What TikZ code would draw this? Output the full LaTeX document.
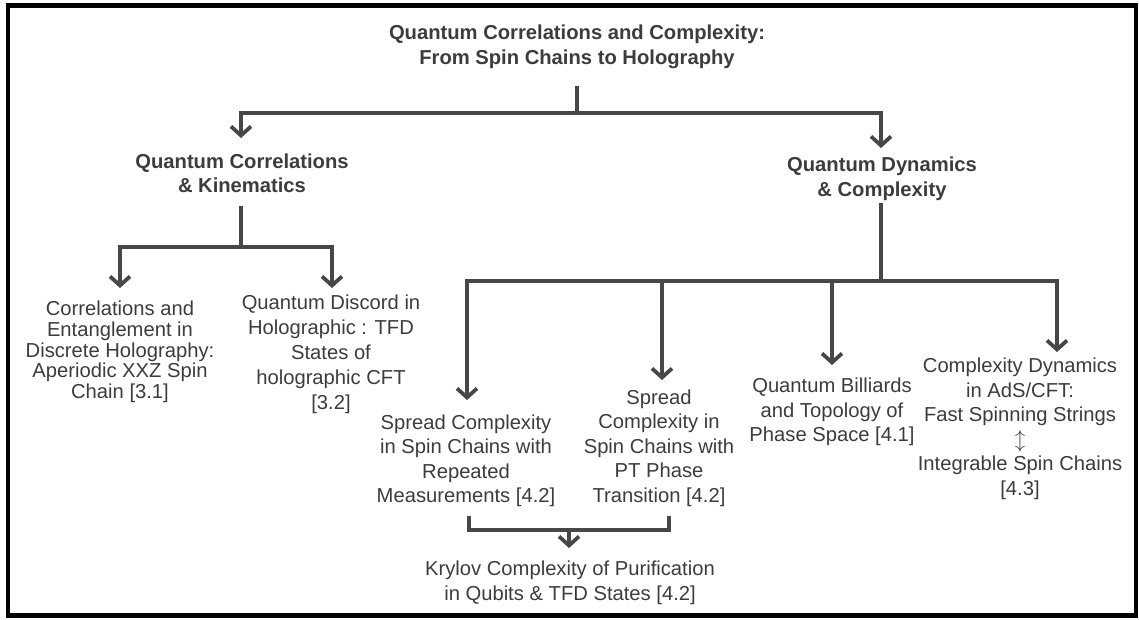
\documentclass[tikz,border=0pt]{standalone}
\usepackage{fontspec}
\setmainfont{Liberation Sans}
\usetikzlibrary{arrows.meta}
\definecolor{lnc}{HTML}{474747}
\definecolor{txc}{HTML}{3C3C3C}
\begin{document}
\begin{tikzpicture}[x=1pt,y=-1pt,
  ln/.style={draw=lnc,line width=3.8pt},
  arr/.style={ln,-{Straight Barb[length=9pt,width=20pt]}},
  boldtxt/.style={font=\fontsize{20.2}{24.5}\selectfont\bfseries, text=txc, align=center, inner sep=0pt},
  regtxt/.style={font=\fontsize{20.2}{24.5}\selectfont, text=txc, align=center, inner sep=0pt}]
\useasboundingbox (0,0) rectangle (1139,619);
\draw[line width=4.5pt,black] (8,5.5) rectangle (1136,615.5);

% nodes
\node[boldtxt] (title) at (577,47) {Quantum Correlations and Complexity:\\From Spin Chains to Holography};
\node[boldtxt] (kin) at (242,173.5) {Quantum Correlations\\\& Kinematics};
\node[boldtxt] (dyn) at (882,179) {Quantum Dynamics\\\& Complexity};
\node[regtxt,font=\fontsize{20.2}{20.7}\selectfont] (n31) at (120,352) {Correlations and\\Entanglement in\\Discrete Holography:\\Aperiodic XXZ Spin\\Chain [3.1]};
\node[regtxt,font=\fontsize{20.2}{25}\selectfont] (n32) at (331,354) {Quantum Discord in\\Holographic : TFD\\States of\\holographic CFT\\{[3.2]}};
\node[regtxt] (n42a) at (466,461) {Spread Complexity\\in Spin Chains with\\Repeated\\Measurements [4.2]};
\node[regtxt] (n42b) at (659,448) {Spread\\Complexity in\\Spin Chains with\\PT Phase\\Transition [4.2]};
\node[regtxt] (n41) at (832,412) {Quantum Billiards\\and Topology of\\Phase Space [4.1]};
\node[regtxt] (n43) at (1020,429) {Complexity Dynamics\\in AdS/CFT:\\Fast Spinning Strings\\$\updownarrow$\\Integrable Spin Chains\\{[4.3]}};
\node[regtxt] (nk) at (570,583) {Krylov Complexity of Purification\\in Qubits \& TFD States [4.2]};

% junctions and tips
\coordinate (s0) at (577,86);
\coordinate (j0) at (577,113);
\coordinate (tkin) at (241,138);
\coordinate (tdyn) at (881,148);
\coordinate (s1) at (241,206);
\coordinate (j1) at (241,247);
\coordinate (t31) at (120,288);
\coordinate (t32) at (332,288);
\coordinate (s2) at (881,203);
\coordinate (j2) at (881,281);
\coordinate (t42a) at (467,400);
\coordinate (t42b) at (662,380);
\coordinate (t41) at (832,365);
\coordinate (t43) at (1057,352);
\coordinate (b1) at (469,516);
\coordinate (b2) at (669,516);
\coordinate (bj) at (569,530);
\coordinate (tk) at (569,548);

% connectors
\draw[ln] (s0) -- (j0);
\draw[arr] (j0) -| (tkin);
\draw[arr] (j0) -| (tdyn);
\draw[ln] (s1) -- (j1);
\draw[arr] (j1) -| (t31);
\draw[arr] (j1) -| (t32);
\draw[ln] (s2) -- (j2);
\draw[arr] (j2) -| (t42a);
\draw[arr] (j2) -| (t42b);
\draw[arr] (j2) -| (t41);
\draw[arr] (j2) -| (t43);
\draw[ln] (b1) |- (b2 |- bj) -- (b2);
\draw[arr] (bj) -- (tk);
\end{tikzpicture}
\end{document}
